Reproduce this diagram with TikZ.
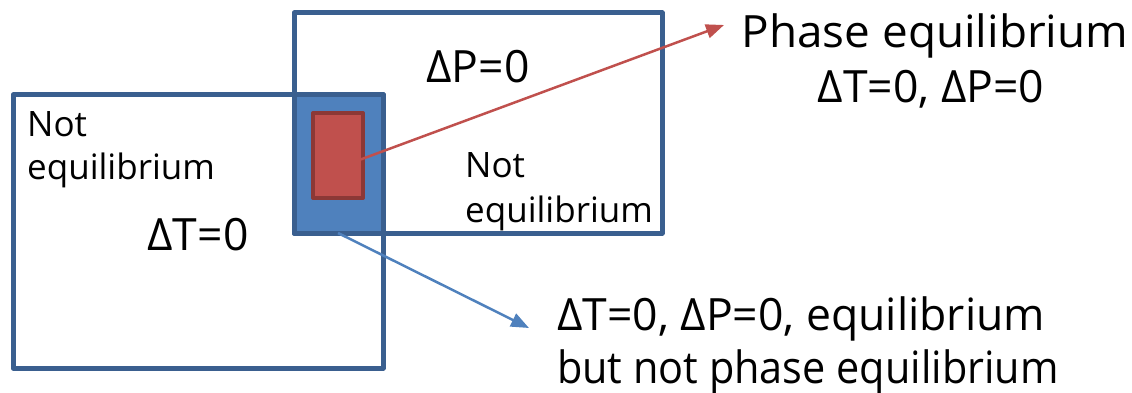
\documentclass[tikz,border=0pt]{standalone}
\usepackage{fontspec}
\setmainfont{Open Sans}
\usetikzlibrary{arrows.meta}
\definecolor{boxblue}{HTML}{3A5F8F}
\definecolor{fillblue}{HTML}{4F81BD}
\definecolor{fillred}{HTML}{C0504D}
\definecolor{darkred}{HTML}{8C3836}
\tikzset{
  region/.style={draw=boxblue, line width=5pt, line join=round},
  big/.style={font=\fontsize{44.5}{50}\selectfont, inner sep=0pt},
  small/.style={font=\fontsize{35}{40}\selectfont, inner sep=0pt},
  redarrow/.style={draw=fillred, line width=2.5pt, -{Triangle[length=18pt,width=14pt]}},
  bluearrow/.style={draw=fillblue, line width=2.5pt, -{Triangle[length=18pt,width=14pt]}},
}
\begin{document}
\begin{tikzpicture}[x=1pt,y=-1pt]
\useasboundingbox (0,0) rectangle (1132,393);
% region Delta T = 0
\draw[region, fill=white] (13,95) rectangle (383,368);
% region Delta P = 0
\draw[region] (294,13) rectangle (662,233);
% intersection
\draw[region, fill=fillblue] (294,95) rectangle (383,233);
\coordinate (interS) at (338,233);
% phase equilibrium region
\draw[draw=darkred, fill=fillred, line width=4pt, line join=round] (313,113) rectangle (363,198);
\coordinate (phase) at (343,166);
% texts
\node[big, anchor=base] (dp) at (478,83) {ΔP=0};
\node[big, anchor=base] (dt) at (198,250) {ΔT=0};
\node[small, anchor=base west] (ne1a) at (27,136) {Not};
\node[small, anchor=base west] (ne1b) at (27,179) {equilibrium};
\node[small, anchor=base west] (ne2a) at (465,177) {Not};
\node[small, anchor=base west] (ne2b) at (465,222) {equilibrium};
\node[big, anchor=base] (pe1) at (935,48) {\scalebox{1.03}[1]{Phase equilibrium}};
\node[big, anchor=base] (pe2) at (931,103) {ΔT=0, ΔP=0};
\node[big, anchor=base west] (eq1) at (557,330) {ΔT=0, ΔP=0, equilibrium};
\node[big, anchor=base west] (eq2) at (557,383) {\scalebox{0.93}[1]{but not phase equilibrium}};
% connectors
\coordinate (redtip) at (724,25);
\coordinate (bluetip) at (529,328);
\draw[redarrow] (phase) -- (redtip);
\draw[bluearrow] (interS) -- (bluetip);
\end{tikzpicture}
\end{document}
